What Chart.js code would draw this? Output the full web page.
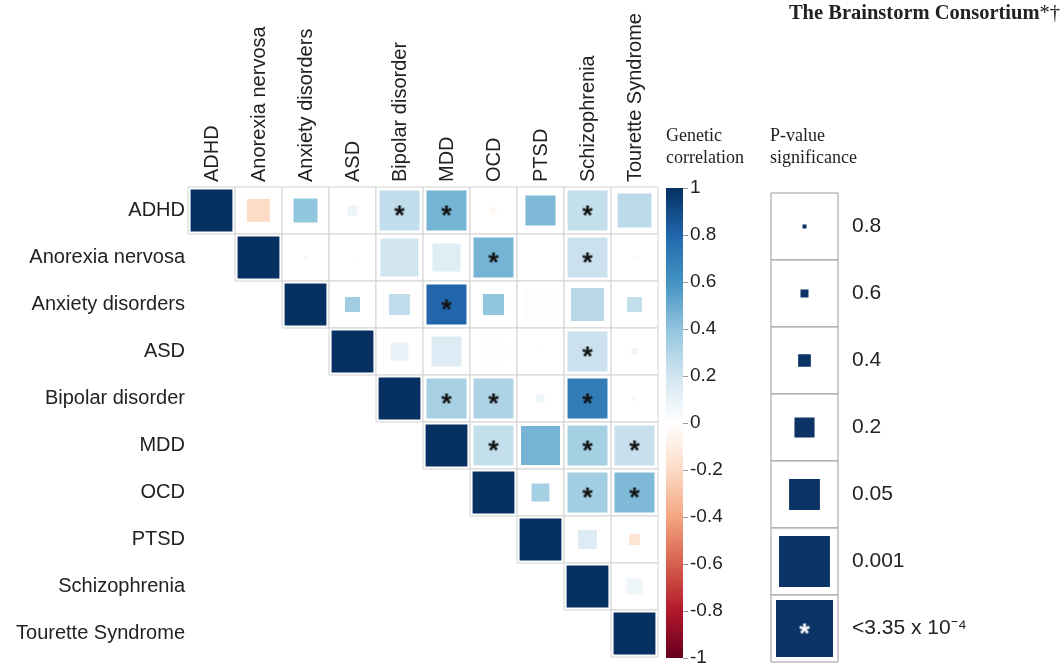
<!DOCTYPE html>
<html><head><meta charset="utf-8">
<script src="https://cdn.jsdelivr.net/npm/chart.js@4.4.1/dist/chart.umd.min.js"></script>
<style>
html,body{margin:0;padding:0;background:#fff;}
#wrap{position:relative;width:1064px;height:665px;overflow:hidden;background:#fff;}
canvas{position:absolute;left:0;top:0;}
.t{position:absolute;font-family:"Liberation Serif","DejaVu Serif",serif;color:#222;white-space:nowrap;}
</style></head><body>
<div id="wrap">
<canvas id="main" width="1064" height="665"></canvas>
<canvas id="cbar" width="1064" height="665"></canvas>
<canvas id="pleg" width="1064" height="665"></canvas>
<div class="t" style="right:4px;top:1px;font-size:20.5px;"><b>The Brainstorm Consortium</b>*†</div>
<div class="t" style="left:666px;top:124px;font-size:18px;line-height:22px;">Genetic<br>correlation</div>
<div class="t" style="left:770px;top:124px;font-size:18px;line-height:22px;">P-value<br>significance</div>
</div>
<script>
// ---------- data ----------
const traits = ['ADHD','Anorexia nervosa','Anxiety disorders','ASD','Bipolar disorder','MDD','OCD','PTSD','Schizophrenia','Tourette Syndrome'];
// genetic correlation (upper triangle, row = y trait, column = x trait)
const rgADHD   = [1, -0.2, 0.4, 0.08, 0.25, 0.47, -0.05, 0.45, 0.24, 0.27];
const rgAN     = [null, 1, 0.05, 0.05, 0.2, 0.14, 0.47, 0.01, 0.22, 0.05];
const rgANX    = [null, null, 1, 0.35, 0.25, 0.8, 0.4, -0.01, 0.28, 0.24];
const rgASD    = [null, null, null, 1, 0.1, 0.15, 0.01, 0.05, 0.22, 0.06];
const rgBIP    = [null, null, null, null, 1, 0.33, 0.31, 0.08, 0.7, 0.03];
const rgMDD    = [null, null, null, null, null, 1, 0.24, 0.47, 0.34, 0.23];
const rgOCD    = [null, null, null, null, null, null, 1, 0.34, 0.35, 0.45];
const rgPTSD   = [null, null, null, null, null, null, null, 1, 0.15, -0.15];
const rgSCZ    = [null, null, null, null, null, null, null, null, 1, 0.07];
const rgTS     = [null, null, null, null, null, null, null, null, null, 1];
// p-values (0 on the diagonal)
const pADHD = [0, 0.034, 0.026, 0.35, 1e-5, 1e-5, 0.57, 0.0048, 1e-5, 0.0017];
const pAN   = [null, 0, 0.78, 0.85, 5.5e-4, 0.008, 1e-5, 0.95, 1e-5, 0.78];
const pANX  = [null, null, 0, 0.17, 0.055, 1e-5, 0.055, 0.0012, 0.0022, 0.17];
const pASD  = [null, null, null, 0, 0.1, 0.0048, 0.02, 0.85, 1e-5, 0.5];
const pBIP  = [null, null, null, null, 0, 1e-5, 1e-5, 0.45, 1e-5, 0.64];
const pMDD  = [null, null, null, null, null, 0, 1e-5, 4.3e-4, 1e-5, 1e-5];
const pOCD  = [null, null, null, null, null, null, 0, 0.1, 1e-5, 1e-5];
const pPTSD = [null, null, null, null, null, null, null, 0, 0.084, 0.31];
const pSCZ  = [null, null, null, null, null, null, null, null, 0, 0.14];
const pTS   = [null, null, null, null, null, null, null, null, null, 0];
const rgRows = [rgADHD, rgAN, rgANX, rgASD, rgBIP, rgMDD, rgOCD, rgPTSD, rgSCZ, rgTS];
const pRows  = [pADHD, pAN, pANX, pASD, pBIP, pMDD, pOCD, pPTSD, pSCZ, pTS];
const starThreshold = 3.35e-4;
// colour bar ticks
const cbTicks = [1, 0.8, 0.6, 0.4, 0.2, 0, -0.2, -0.4, -0.6, -0.8, -1];
// p-value legend
const pLevels = [0.8, 0.6, 0.4, 0.2, 0.05, 0.001, 1e-5];
const pLabels = ['0.8', '0.6', '0.4', '0.2', '0.05', '0.001', '<3.35 x 10\u207B\u2074'];

// ---------- helpers ----------
const rdbu = ['#67001F','#B2182B','#D6604D','#F4A582','#FDDBC7','#FFFFFF','#D1E5F0','#92C5DE','#4393C3','#2166AC','#053061'];
function hex2rgb(h){return [parseInt(h.substr(1,2),16),parseInt(h.substr(3,2),16),parseInt(h.substr(5,2),16)];}
function colorFor(v){
  const t = (Math.max(-1, Math.min(1, v)) + 1) / 2 * (rdbu.length - 1);
  const i = Math.min(rdbu.length - 2, Math.floor(t)), f = t - i;
  const a = hex2rgb(rdbu[i]), b = hex2rgb(rdbu[i+1]);
  return 'rgb(' + a.map((c,k)=>Math.round(c + (b[k]-c)*f)).join(',') + ')';
}
// relative square size (fraction of cell) as a function of p-value, on log scale
const sizeKnots = [[0,0],[-0.097,0.06],[-0.222,0.12],[-0.398,0.19],[-0.699,0.30],[-1.301,0.46],[-3,0.76],[-3.475,0.85]];
function sizeFor(p){
  if (p === 0) return 0.89;
  const l = Math.log10(p);
  if (l <= sizeKnots[sizeKnots.length-1][0]) return 0.85;
  for (let k = 1; k < sizeKnots.length; k++){
    const [l1,s1] = sizeKnots[k-1], [l2,s2] = sizeKnots[k];
    if (l <= l1 && l >= l2) return s1 + (s2 - s1) * (l - l1) / (l2 - l1);
  }
  return 0;
}
function starImage(color, fs){
  const c = document.createElement('canvas'); c.width = 30; c.height = 30;
  const g = c.getContext('2d');
  g.fillStyle = color; g.textAlign = 'center'; g.textBaseline = 'alphabetic';
  g.font = 'bold ' + fs + 'px "Liberation Sans", Arial, sans-serif';
  const m = g.measureText('*');
  const a = m.actualBoundingBoxAscent || fs * 0.72, d = m.actualBoundingBoxDescent || -fs * 0.44;
  g.fillText('*', 15, 15 + (a - d) / 2);
  return c;
}
const starBlack = starImage('#111', 27);
const starWhite = starImage('#fff', 27);

// ---------- main matrix ----------
const cellPts = [], sqPts = [], starPts = [];
for (let i = 0; i < traits.length; i++){
  for (let j = i; j < traits.length; j++){
    const r = rgRows[i][j], p = pRows[i][j];
    cellPts.push({x: traits[j], y: traits[i]});
    sqPts.push({x: traits[j], y: traits[i], r: r, p: p});
    if (p > 0 && p < starThreshold) starPts.push({x: traits[j], y: traits[i]});
  }
}
const cellSize = ctx => ctx.chart.scales.x.width / traits.length;
const labelFont = {family: '"Liberation Sans", Arial, sans-serif', size: 20};
const cbFont = {family: '"Liberation Sans", Arial, sans-serif', size: 19};
const legFont = {family: '"Liberation Sans", Arial, sans-serif', size: 21};
const noPad = s => { s.paddingTop = 0; s.paddingBottom = 0; s.paddingLeft = 0; s.paddingRight = 0; };

Chart.defaults.animation = false;
Chart.defaults.color = '#222';

new Chart(document.getElementById('main'), {
  type: 'scatter',
  data: {datasets: [
    {data: starPts, order: 1, pointStyle: starBlack, pointRadius: 10},
    {data: sqPts, order: 2, pointStyle: 'rect', borderWidth: 0,
      backgroundColor: ctx => colorFor(ctx.raw.r),
      pointRadius: ctx => cellSize(ctx) * sizeFor(ctx.raw.p) / Math.SQRT2},
    {data: cellPts, order: 3, pointStyle: 'rect', backgroundColor: '#fff', borderColor: '#d2d2d2', borderWidth: 1,
      pointRadius: ctx => cellSize(ctx) / Math.SQRT2}
  ]},
  options: {
    responsive: false, events: [],
    layout: {autoPadding: false, padding: {left: 0, top: 0, right: 1064 - 658, bottom: 665 - 657}},
    plugins: {legend: {display: false}, tooltip: {enabled: false}},
    scales: {
      x: {type: 'category', labels: traits, position: 'top', offset: true,
        grid: {display: false, drawTicks: false}, border: {display: false},
        ticks: {minRotation: 90, maxRotation: 90, padding: 5, labelOffset: 25, font: labelFont, autoSkip: false},
        afterFit: s => { s.height = 187; noPad(s); }},
      y: {type: 'category', labels: traits, position: 'left', offset: true,
        grid: {display: false, drawTicks: false}, border: {display: false},
        ticks: {padding: 3, font: labelFont, autoSkip: false},
        afterFit: s => { s.width = 188; noPad(s); }}
    }
  }
});

// ---------- colour bar ----------
new Chart(document.getElementById('cbar'), {
  type: 'bar',
  data: {labels: [''], datasets: [{data: [[-1, 1]], barPercentage: 1, categoryPercentage: 1,
    backgroundColor: ctx => {
      const a = ctx.chart.chartArea; if (!a) return '#fff';
      const g = ctx.chart.ctx.createLinearGradient(0, a.bottom, 0, a.top);
      rdbu.forEach((c, k) => g.addColorStop(k / (rdbu.length - 1), c));
      return g;
    }}]},
  options: {
    responsive: false, events: [],
    layout: {autoPadding: false, padding: {left: 666, top: 188, right: 1064 - 683 - 60, bottom: 665 - 658}},
    plugins: {legend: {display: false}, tooltip: {enabled: false}},
    scales: {
      x: {display: false},
      y: {position: 'right', min: -1, max: 1,
        grid: {drawOnChartArea: false, drawTicks: true, tickLength: 5, color: '#999'},
        border: {display: false},
        afterBuildTicks: s => { s.ticks = cbTicks.map(v => ({value: v})); },
        ticks: {padding: 2, font: cbFont, callback: v => String(v)},
        afterFit: s => { s.width = 60; noPad(s); }}
    }
  }
});

// ---------- p-value legend ----------
const legCells = pLabels.map(l => ({x: 'k', y: l}));
const legSq = pLabels.map((l, k) => ({x: 'k', y: l, p: pLevels[k]}));
const legStar = [{x: 'k', y: pLabels[pLabels.length - 1]}];
new Chart(document.getElementById('pleg'), {
  type: 'scatter',
  data: {datasets: [
    {data: legStar, order: 1, pointStyle: starWhite, pointRadius: 10},
    {data: legSq, order: 2, pointStyle: 'rect', borderWidth: 0, backgroundColor: '#0b3366',
      pointRadius: ctx => ctx.chart.scales.x.width * sizeFor(ctx.raw.p) / Math.SQRT2},
    {data: legCells, order: 3, pointStyle: 'rect', backgroundColor: '#fff', borderColor: '#9a9a9a', borderWidth: 1,
      pointRadius: ctx => ctx.chart.scales.x.width / Math.SQRT2}
  ]},
  options: {
    responsive: false, events: [],
    layout: {autoPadding: false, padding: {left: 771, top: 193, right: 1064 - 838 - 200, bottom: 665 - 662}},
    plugins: {legend: {display: false}, tooltip: {enabled: false}},
    scales: {
      x: {type: 'category', labels: ['k'], offset: true, display: false},
      y: {type: 'category', labels: pLabels, position: 'right', offset: true,
        grid: {display: false, drawTicks: false}, border: {display: false},
        ticks: {padding: 14, font: legFont, autoSkip: false},
        afterFit: s => { s.width = 200; noPad(s); }}
    }
  }
});
</script>
</body></html>
